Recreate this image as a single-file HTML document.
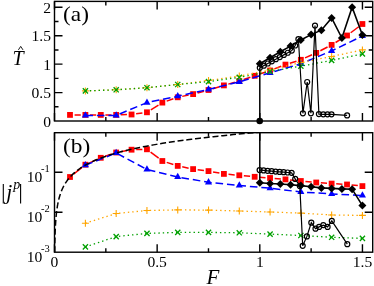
<!DOCTYPE html>
<html><head><meta charset="utf-8"><title>chart</title>
<style>
html,body{margin:0;padding:0;background:#fff;}
svg{display:block;will-change:transform;}
text{font-family:"Liberation Serif",serif;fill:#000;}
</style></head><body>
<svg width="374" height="286" viewBox="0 0 374 286">
<rect width="374" height="286" fill="#fff"/>
<defs><clipPath id="ca"><rect x="54.50" y="1.40" width="318.20" height="123.60"/></clipPath>
<clipPath id="cb"><rect x="54.50" y="132.70" width="318.20" height="119.50"/></clipPath></defs>
<g clip-path="url(#ca)">
<line x1="74.60" y1="114.90" x2="80.79" y2="114.90" stroke="#ff0000" stroke-width="1.5"/>
<line x1="89.99" y1="114.90" x2="96.18" y2="114.90" stroke="#ff0000" stroke-width="1.5"/>
<line x1="105.38" y1="114.90" x2="111.57" y2="114.90" stroke="#ff0000" stroke-width="1.5"/>
<line x1="120.77" y1="114.78" x2="126.96" y2="114.62" stroke="#ff0000" stroke-width="1.5"/>
<line x1="136.11" y1="113.85" x2="142.40" y2="112.95" stroke="#ff0000" stroke-width="1.5"/>
<line x1="150.84" y1="109.85" x2="158.45" y2="105.05" stroke="#ff0000" stroke-width="1.5"/>
<line x1="166.69" y1="101.10" x2="173.38" y2="98.80" stroke="#ff0000" stroke-width="1.5"/>
<line x1="182.23" y1="96.36" x2="188.62" y2="95.04" stroke="#ff0000" stroke-width="1.5"/>
<line x1="197.56" y1="92.92" x2="204.07" y2="91.18" stroke="#ff0000" stroke-width="1.5"/>
<line x1="212.92" y1="88.68" x2="219.49" y2="86.72" stroke="#ff0000" stroke-width="1.5"/>
<line x1="228.32" y1="84.14" x2="234.87" y2="82.26" stroke="#ff0000" stroke-width="1.5"/>
<line x1="243.65" y1="79.53" x2="250.32" y2="77.27" stroke="#ff0000" stroke-width="1.5"/>
<line x1="259.03" y1="74.30" x2="265.72" y2="72.00" stroke="#ff0000" stroke-width="1.5"/>
<line x1="274.37" y1="68.85" x2="281.16" y2="66.25" stroke="#ff0000" stroke-width="1.5"/>
<line x1="289.85" y1="63.23" x2="296.46" y2="61.17" stroke="#ff0000" stroke-width="1.5"/>
<line x1="305.05" y1="57.92" x2="312.04" y2="54.78" stroke="#ff0000" stroke-width="1.5"/>
<line x1="320.32" y1="50.78" x2="327.55" y2="47.02" stroke="#ff0000" stroke-width="1.5"/>
<line x1="335.56" y1="42.50" x2="343.09" y2="37.90" stroke="#ff0000" stroke-width="1.5"/>
<line x1="350.70" y1="32.75" x2="358.73" y2="26.75" stroke="#ff0000" stroke-width="1.5"/>
<rect x="67.10" y="112.00" width="5.80" height="5.80" fill="#ff0000"/>
<rect x="82.49" y="112.00" width="5.80" height="5.80" fill="#ff0000"/>
<rect x="97.88" y="112.00" width="5.80" height="5.80" fill="#ff0000"/>
<rect x="113.27" y="112.00" width="5.80" height="5.80" fill="#ff0000"/>
<rect x="128.66" y="111.60" width="5.80" height="5.80" fill="#ff0000"/>
<rect x="144.05" y="109.40" width="5.80" height="5.80" fill="#ff0000"/>
<rect x="159.44" y="99.70" width="5.80" height="5.80" fill="#ff0000"/>
<rect x="174.83" y="94.40" width="5.80" height="5.80" fill="#ff0000"/>
<rect x="190.22" y="91.20" width="5.80" height="5.80" fill="#ff0000"/>
<rect x="205.61" y="87.10" width="5.80" height="5.80" fill="#ff0000"/>
<rect x="221.00" y="82.50" width="5.80" height="5.80" fill="#ff0000"/>
<rect x="236.39" y="78.10" width="5.80" height="5.80" fill="#ff0000"/>
<rect x="251.78" y="72.90" width="5.80" height="5.80" fill="#ff0000"/>
<rect x="267.17" y="67.60" width="5.80" height="5.80" fill="#ff0000"/>
<rect x="282.56" y="61.70" width="5.80" height="5.80" fill="#ff0000"/>
<rect x="297.95" y="56.90" width="5.80" height="5.80" fill="#ff0000"/>
<rect x="313.34" y="50.00" width="5.80" height="5.80" fill="#ff0000"/>
<rect x="328.73" y="42.00" width="5.80" height="5.80" fill="#ff0000"/>
<rect x="344.12" y="32.60" width="5.80" height="5.80" fill="#ff0000"/>
<rect x="359.51" y="21.10" width="5.80" height="5.80" fill="#ff0000"/>
<polyline points="85.40,115.40 116.18,115.40 146.96,102.60 177.74,96.20 208.52,89.40 239.30,81.80 270.08,72.80 300.86,63.80 331.64,50.90 362.42,36.00" fill="none" stroke="#0000ff" stroke-width="1.5" stroke-dasharray="7.6 3.9" />
<polygon points="85.40,111.20 81.85,117.50 88.95,117.50" fill="#0000ff"/>
<polygon points="116.18,111.20 112.63,117.50 119.73,117.50" fill="#0000ff"/>
<polygon points="146.96,98.40 143.41,104.70 150.51,104.70" fill="#0000ff"/>
<polygon points="177.74,92.00 174.19,98.30 181.29,98.30" fill="#0000ff"/>
<polygon points="208.52,85.20 204.97,91.50 212.07,91.50" fill="#0000ff"/>
<polygon points="239.30,77.60 235.75,83.90 242.85,83.90" fill="#0000ff"/>
<polygon points="270.08,68.60 266.53,74.90 273.63,74.90" fill="#0000ff"/>
<polygon points="300.86,59.60 297.31,65.90 304.41,65.90" fill="#0000ff"/>
<polygon points="331.64,46.70 328.09,53.00 335.19,53.00" fill="#0000ff"/>
<polygon points="362.42,31.80 358.87,38.10 365.97,38.10" fill="#0000ff"/>
<polyline points="85.40,90.90 116.18,89.80 146.96,87.70 177.74,84.50 208.52,80.50 239.30,76.00 270.08,70.00 300.86,62.50 331.64,56.50 362.42,49.90" fill="none" stroke="#ffa500" stroke-width="1.3" stroke-dasharray="1.4 3.0" />
<path d="M81.90 90.90H88.90M85.40 87.40V94.40" stroke="#ffa500" stroke-width="1.1" fill="none"/>
<path d="M112.68 89.80H119.68M116.18 86.30V93.30" stroke="#ffa500" stroke-width="1.1" fill="none"/>
<path d="M143.46 87.70H150.46M146.96 84.20V91.20" stroke="#ffa500" stroke-width="1.1" fill="none"/>
<path d="M174.24 84.50H181.24M177.74 81.00V88.00" stroke="#ffa500" stroke-width="1.1" fill="none"/>
<path d="M205.02 80.50H212.02M208.52 77.00V84.00" stroke="#ffa500" stroke-width="1.1" fill="none"/>
<path d="M235.80 76.00H242.80M239.30 72.50V79.50" stroke="#ffa500" stroke-width="1.1" fill="none"/>
<path d="M266.58 70.00H273.58M270.08 66.50V73.50" stroke="#ffa500" stroke-width="1.1" fill="none"/>
<path d="M297.36 62.50H304.36M300.86 59.00V66.00" stroke="#ffa500" stroke-width="1.1" fill="none"/>
<path d="M328.14 56.50H335.14M331.64 53.00V60.00" stroke="#ffa500" stroke-width="1.1" fill="none"/>
<path d="M358.92 49.90H365.92M362.42 46.40V53.40" stroke="#ffa500" stroke-width="1.1" fill="none"/>
<polyline points="85.40,90.90 116.18,89.80 146.96,87.70 177.74,84.50 208.52,81.60 239.30,77.30 270.08,71.50 300.86,66.20 331.64,60.40 362.42,53.90" fill="none" stroke="#00a000" stroke-width="1.3" stroke-dasharray="1.4 3.0" />
<path d="M82.80 88.30L88.00 93.50M82.80 93.50L88.00 88.30" stroke="#00a000" stroke-width="1.3" fill="none"/>
<path d="M113.58 87.20L118.78 92.40M113.58 92.40L118.78 87.20" stroke="#00a000" stroke-width="1.3" fill="none"/>
<path d="M144.36 85.10L149.56 90.30M144.36 90.30L149.56 85.10" stroke="#00a000" stroke-width="1.3" fill="none"/>
<path d="M175.14 81.90L180.34 87.10M175.14 87.10L180.34 81.90" stroke="#00a000" stroke-width="1.3" fill="none"/>
<path d="M205.92 79.00L211.12 84.20M205.92 84.20L211.12 79.00" stroke="#00a000" stroke-width="1.3" fill="none"/>
<path d="M236.70 74.70L241.90 79.90M236.70 79.90L241.90 74.70" stroke="#00a000" stroke-width="1.3" fill="none"/>
<path d="M267.48 68.90L272.68 74.10M267.48 74.10L272.68 68.90" stroke="#00a000" stroke-width="1.3" fill="none"/>
<path d="M298.26 63.60L303.46 68.80M298.26 68.80L303.46 63.60" stroke="#00a000" stroke-width="1.3" fill="none"/>
<path d="M329.04 57.80L334.24 63.00M329.04 63.00L334.24 57.80" stroke="#00a000" stroke-width="1.3" fill="none"/>
<path d="M359.82 51.30L365.02 56.50M359.82 56.50L365.02 51.30" stroke="#00a000" stroke-width="1.3" fill="none"/>
<polyline points="259.80,121.00 259.80,67.80" fill="none" stroke="#000" stroke-width="1.5" />
<polyline points="259.80,67.80 263.80,65.65 267.80,63.50 271.80,61.35 275.80,59.20 279.80,57.05 283.80,54.90 287.80,52.75 291.80,50.60 295.20,45.50 298.40,39.20 302.90,113.30 307.20,82.00 310.90,113.30 315.00,25.60 318.90,114.10 323.30,114.30 327.50,114.30 331.50,114.30 347.10,115.40" fill="none" stroke="#000" stroke-width="1.2" />
<circle cx="259.80" cy="67.80" r="2.50" fill="none" stroke="#000" stroke-width="1.2"/>
<circle cx="263.80" cy="65.65" r="2.50" fill="none" stroke="#000" stroke-width="1.2"/>
<circle cx="267.80" cy="63.50" r="2.50" fill="none" stroke="#000" stroke-width="1.2"/>
<circle cx="271.80" cy="61.35" r="2.50" fill="none" stroke="#000" stroke-width="1.2"/>
<circle cx="275.80" cy="59.20" r="2.50" fill="none" stroke="#000" stroke-width="1.2"/>
<circle cx="279.80" cy="57.05" r="2.50" fill="none" stroke="#000" stroke-width="1.2"/>
<circle cx="283.80" cy="54.90" r="2.50" fill="none" stroke="#000" stroke-width="1.2"/>
<circle cx="287.80" cy="52.75" r="2.50" fill="none" stroke="#000" stroke-width="1.2"/>
<circle cx="291.80" cy="50.60" r="2.50" fill="none" stroke="#000" stroke-width="1.2"/>
<circle cx="295.20" cy="45.50" r="2.50" fill="none" stroke="#000" stroke-width="1.2"/>
<circle cx="298.40" cy="39.20" r="2.50" fill="none" stroke="#000" stroke-width="1.2"/>
<circle cx="302.90" cy="113.30" r="2.50" fill="none" stroke="#000" stroke-width="1.2"/>
<circle cx="307.20" cy="82.00" r="2.50" fill="none" stroke="#000" stroke-width="1.2"/>
<circle cx="310.90" cy="113.30" r="2.50" fill="none" stroke="#000" stroke-width="1.2"/>
<circle cx="315.00" cy="25.60" r="2.50" fill="none" stroke="#000" stroke-width="1.2"/>
<circle cx="318.90" cy="114.10" r="2.50" fill="none" stroke="#000" stroke-width="1.2"/>
<circle cx="323.30" cy="114.30" r="2.50" fill="none" stroke="#000" stroke-width="1.2"/>
<circle cx="327.50" cy="114.30" r="2.50" fill="none" stroke="#000" stroke-width="1.2"/>
<circle cx="331.50" cy="114.30" r="2.50" fill="none" stroke="#000" stroke-width="1.2"/>
<circle cx="347.10" cy="115.40" r="2.50" fill="none" stroke="#000" stroke-width="1.2"/>
<polyline points="259.80,63.80 270.06,57.70 280.32,51.70 290.58,46.10 300.84,40.00 311.10,34.60 321.36,30.20 331.62,18.00 341.88,38.00 352.14,7.20 362.40,35.00" fill="none" stroke="#000" stroke-width="1.6" />
<polygon points="259.80,59.80 263.80,63.80 259.80,67.80 255.80,63.80" fill="#000"/>
<polygon points="270.06,53.70 274.06,57.70 270.06,61.70 266.06,57.70" fill="#000"/>
<polygon points="280.32,47.70 284.32,51.70 280.32,55.70 276.32,51.70" fill="#000"/>
<polygon points="290.58,42.10 294.58,46.10 290.58,50.10 286.58,46.10" fill="#000"/>
<polygon points="300.84,36.00 304.84,40.00 300.84,44.00 296.84,40.00" fill="#000"/>
<polygon points="311.10,30.60 315.10,34.60 311.10,38.60 307.10,34.60" fill="#000"/>
<polygon points="321.36,26.20 325.36,30.20 321.36,34.20 317.36,30.20" fill="#000"/>
<polygon points="331.62,14.00 335.62,18.00 331.62,22.00 327.62,18.00" fill="#000"/>
<polygon points="341.88,34.00 345.88,38.00 341.88,42.00 337.88,38.00" fill="#000"/>
<polygon points="352.14,3.20 356.14,7.20 352.14,11.20 348.14,7.20" fill="#000"/>
<polygon points="362.40,31.00 366.40,35.00 362.40,39.00 358.40,35.00" fill="#000"/>
</g>
<circle cx="259.7" cy="121.0" r="3.3" fill="#000"/>
<g clip-path="url(#cb)">
<polyline points="85.40,223.20 116.18,213.50 146.96,210.50 177.74,209.90 208.52,210.10 239.30,211.00 270.08,212.00 300.86,213.10 331.64,215.00 362.42,215.40" fill="none" stroke="#ffa500" stroke-width="1.3" stroke-dasharray="1.4 3.0" />
<path d="M81.90 223.20H88.90M85.40 219.70V226.70" stroke="#ffa500" stroke-width="1.1" fill="none"/>
<path d="M112.68 213.50H119.68M116.18 210.00V217.00" stroke="#ffa500" stroke-width="1.1" fill="none"/>
<path d="M143.46 210.50H150.46M146.96 207.00V214.00" stroke="#ffa500" stroke-width="1.1" fill="none"/>
<path d="M174.24 209.90H181.24M177.74 206.40V213.40" stroke="#ffa500" stroke-width="1.1" fill="none"/>
<path d="M205.02 210.10H212.02M208.52 206.60V213.60" stroke="#ffa500" stroke-width="1.1" fill="none"/>
<path d="M235.80 211.00H242.80M239.30 207.50V214.50" stroke="#ffa500" stroke-width="1.1" fill="none"/>
<path d="M266.58 212.00H273.58M270.08 208.50V215.50" stroke="#ffa500" stroke-width="1.1" fill="none"/>
<path d="M297.36 213.10H304.36M300.86 209.60V216.60" stroke="#ffa500" stroke-width="1.1" fill="none"/>
<path d="M328.14 215.00H335.14M331.64 211.50V218.50" stroke="#ffa500" stroke-width="1.1" fill="none"/>
<path d="M358.92 215.40H365.92M362.42 211.90V218.90" stroke="#ffa500" stroke-width="1.1" fill="none"/>
<polyline points="85.40,246.90 116.18,236.60 146.96,233.40 177.74,232.40 208.52,232.40 239.30,232.80 270.08,234.10 300.86,235.50 331.64,237.30 362.42,238.40" fill="none" stroke="#00a000" stroke-width="1.3" stroke-dasharray="1.4 3.0" />
<path d="M82.80 244.30L88.00 249.50M82.80 249.50L88.00 244.30" stroke="#00a000" stroke-width="1.3" fill="none"/>
<path d="M113.58 234.00L118.78 239.20M113.58 239.20L118.78 234.00" stroke="#00a000" stroke-width="1.3" fill="none"/>
<path d="M144.36 230.80L149.56 236.00M144.36 236.00L149.56 230.80" stroke="#00a000" stroke-width="1.3" fill="none"/>
<path d="M175.14 229.80L180.34 235.00M175.14 235.00L180.34 229.80" stroke="#00a000" stroke-width="1.3" fill="none"/>
<path d="M205.92 229.80L211.12 235.00M205.92 235.00L211.12 229.80" stroke="#00a000" stroke-width="1.3" fill="none"/>
<path d="M236.70 230.20L241.90 235.40M236.70 235.40L241.90 230.20" stroke="#00a000" stroke-width="1.3" fill="none"/>
<path d="M267.48 231.50L272.68 236.70M267.48 236.70L272.68 231.50" stroke="#00a000" stroke-width="1.3" fill="none"/>
<path d="M298.26 232.90L303.46 238.10M298.26 238.10L303.46 232.90" stroke="#00a000" stroke-width="1.3" fill="none"/>
<path d="M329.04 234.70L334.24 239.90M329.04 239.90L334.24 234.70" stroke="#00a000" stroke-width="1.3" fill="none"/>
<path d="M359.82 235.80L365.02 241.00M359.82 241.00L365.02 235.80" stroke="#00a000" stroke-width="1.3" fill="none"/>
<line x1="73.59" y1="174.13" x2="81.80" y2="167.57" stroke="#ff0000" stroke-width="1.5"/>
<line x1="89.59" y1="162.82" x2="96.58" y2="159.68" stroke="#ff0000" stroke-width="1.5"/>
<line x1="105.13" y1="156.30" x2="111.82" y2="154.00" stroke="#ff0000" stroke-width="1.5"/>
<line x1="120.70" y1="151.68" x2="127.03" y2="150.52" stroke="#ff0000" stroke-width="1.5"/>
<line x1="136.16" y1="149.58" x2="142.35" y2="149.42" stroke="#ff0000" stroke-width="1.5"/>
<line x1="150.61" y1="152.08" x2="158.68" y2="158.22" stroke="#ff0000" stroke-width="1.5"/>
<line x1="166.72" y1="162.40" x2="173.35" y2="164.50" stroke="#ff0000" stroke-width="1.5"/>
<line x1="182.23" y1="166.84" x2="188.62" y2="168.16" stroke="#ff0000" stroke-width="1.5"/>
<line x1="197.68" y1="169.69" x2="203.95" y2="170.51" stroke="#ff0000" stroke-width="1.5"/>
<line x1="213.04" y1="171.92" x2="219.37" y2="173.08" stroke="#ff0000" stroke-width="1.5"/>
<line x1="228.48" y1="174.32" x2="234.71" y2="174.88" stroke="#ff0000" stroke-width="1.5"/>
<line x1="243.87" y1="175.75" x2="250.10" y2="176.35" stroke="#ff0000" stroke-width="1.5"/>
<line x1="259.27" y1="177.16" x2="265.48" y2="177.64" stroke="#ff0000" stroke-width="1.5"/>
<line x1="274.65" y1="178.42" x2="280.88" y2="178.98" stroke="#ff0000" stroke-width="1.5"/>
<line x1="290.04" y1="179.88" x2="296.27" y2="180.52" stroke="#ff0000" stroke-width="1.5"/>
<line x1="305.43" y1="181.45" x2="311.66" y2="182.05" stroke="#ff0000" stroke-width="1.5"/>
<line x1="320.83" y1="182.83" x2="327.04" y2="183.27" stroke="#ff0000" stroke-width="1.5"/>
<line x1="336.22" y1="183.87" x2="342.43" y2="184.23" stroke="#ff0000" stroke-width="1.5"/>
<line x1="351.60" y1="184.98" x2="357.83" y2="185.62" stroke="#ff0000" stroke-width="1.5"/>
<rect x="67.10" y="174.10" width="5.80" height="5.80" fill="#ff0000"/>
<rect x="82.49" y="161.80" width="5.80" height="5.80" fill="#ff0000"/>
<rect x="97.88" y="154.90" width="5.80" height="5.80" fill="#ff0000"/>
<rect x="113.27" y="149.60" width="5.80" height="5.80" fill="#ff0000"/>
<rect x="128.66" y="146.80" width="5.80" height="5.80" fill="#ff0000"/>
<rect x="144.05" y="146.40" width="5.80" height="5.80" fill="#ff0000"/>
<rect x="159.44" y="158.10" width="5.80" height="5.80" fill="#ff0000"/>
<rect x="174.83" y="163.00" width="5.80" height="5.80" fill="#ff0000"/>
<rect x="190.22" y="166.20" width="5.80" height="5.80" fill="#ff0000"/>
<rect x="205.61" y="168.20" width="5.80" height="5.80" fill="#ff0000"/>
<rect x="221.00" y="171.00" width="5.80" height="5.80" fill="#ff0000"/>
<rect x="236.39" y="172.40" width="5.80" height="5.80" fill="#ff0000"/>
<rect x="251.78" y="173.90" width="5.80" height="5.80" fill="#ff0000"/>
<rect x="267.17" y="175.10" width="5.80" height="5.80" fill="#ff0000"/>
<rect x="282.56" y="176.50" width="5.80" height="5.80" fill="#ff0000"/>
<rect x="297.95" y="178.10" width="5.80" height="5.80" fill="#ff0000"/>
<rect x="313.34" y="179.60" width="5.80" height="5.80" fill="#ff0000"/>
<rect x="328.73" y="180.70" width="5.80" height="5.80" fill="#ff0000"/>
<rect x="344.12" y="181.60" width="5.80" height="5.80" fill="#ff0000"/>
<rect x="359.51" y="183.20" width="5.80" height="5.80" fill="#ff0000"/>
<polyline points="85.40,165.20 116.18,153.00 146.96,169.50 177.74,177.00 208.52,182.30 239.30,185.50 270.08,188.20 300.86,192.00 331.64,193.90 362.42,195.50" fill="none" stroke="#0000ff" stroke-width="1.5" stroke-dasharray="7.6 3.9" />
<polygon points="85.40,161.00 81.85,167.30 88.95,167.30" fill="#0000ff"/>
<polygon points="116.18,148.80 112.63,155.10 119.73,155.10" fill="#0000ff"/>
<polygon points="146.96,165.30 143.41,171.60 150.51,171.60" fill="#0000ff"/>
<polygon points="177.74,172.80 174.19,179.10 181.29,179.10" fill="#0000ff"/>
<polygon points="208.52,178.10 204.97,184.40 212.07,184.40" fill="#0000ff"/>
<polygon points="239.30,181.30 235.75,187.60 242.85,187.60" fill="#0000ff"/>
<polygon points="270.08,184.00 266.53,190.30 273.63,190.30" fill="#0000ff"/>
<polygon points="300.86,187.80 297.31,194.10 304.41,194.10" fill="#0000ff"/>
<polygon points="331.64,189.70 328.09,196.00 335.19,196.00" fill="#0000ff"/>
<polygon points="362.42,191.30 358.87,197.60 365.97,197.60" fill="#0000ff"/>
<polyline points="54.71,252.20 54.71,251.69 54.72,251.17 54.72,250.66 54.73,250.15 54.74,249.63 54.75,249.12 54.75,248.61 54.76,248.09 54.77,247.58 54.78,247.07 54.78,246.55 54.79,246.04 54.80,245.52 54.81,245.01 54.82,244.50 54.83,243.98 54.84,243.47 54.85,242.96 54.86,242.44 54.87,241.93 54.88,241.42 54.89,240.90 54.91,240.39 54.92,239.88 54.93,239.36 54.94,238.85 54.96,238.34 54.97,237.82 54.98,237.31 55.00,236.80 55.01,236.28 55.03,235.77 55.04,235.25 55.06,234.74 55.08,234.23 55.10,233.71 55.11,233.20 55.13,232.69 55.15,232.17 55.17,231.66 55.19,231.15 55.21,230.63 55.23,230.12 55.25,229.61 55.28,229.09 55.30,228.58 55.32,228.07 55.35,227.55 55.37,227.04 55.40,226.53 55.43,226.01 55.45,225.50 55.48,224.99 55.51,224.47 55.54,223.96 55.57,223.44 55.61,222.93 55.64,222.42 55.67,221.90 55.71,221.39 55.75,220.88 55.78,220.36 55.82,219.85 55.86,219.34 55.90,218.82 55.94,218.31 55.99,217.80 56.03,217.28 56.08,216.77 56.13,216.26 56.17,215.74 56.22,215.23 56.28,214.72 56.33,214.20 56.38,213.69 56.44,213.17 56.50,212.66 56.56,212.15 56.62,211.63 56.68,211.12 56.75,210.61 56.82,210.09 56.89,209.58 56.96,209.07 57.03,208.55 57.11,208.04 57.19,207.53 57.27,207.01 57.35,206.50 57.44,205.99 57.52,205.47 57.61,204.96 57.71,204.45 57.80,203.93 57.90,203.42 58.01,202.91 58.11,202.39 58.22,201.88 58.33,201.36 58.45,200.85 58.56,200.34 58.69,199.82 58.81,199.31 58.94,198.80 59.07,198.28 59.21,197.77 59.35,197.26 59.50,196.74 59.65,196.23 59.80,195.72 59.96,195.20 60.13,194.69 60.29,194.18 60.47,193.66 60.65,193.15 60.83,192.64 61.02,192.12 61.22,191.61 61.42,191.09 61.63,190.58 61.84,190.07 62.06,189.55 62.29,189.04 62.52,188.53 62.76,188.01 63.01,187.50 63.26,186.99 63.53,186.47 63.80,185.96 64.08,185.45 64.36,184.93 64.66,184.42 64.97,183.91 65.28,183.39 65.60,182.88 65.94,182.37 66.28,181.85 66.63,181.34 67.00,180.83 67.37,180.31 67.76,179.80 68.15,179.28 68.56,178.77 68.99,178.26 69.42,177.74 69.87,177.23 70.33,176.72 70.80,176.20 71.29,175.69 71.80,175.18 72.32,174.66 72.85,174.15 73.40,173.64 73.97,173.12 74.55,172.61 75.15,172.10 75.77,171.58 76.41,171.07 77.07,170.56 77.75,170.04 78.44,169.53 79.16,169.01 79.90,168.50 80.66,167.99 81.45,167.47 82.26,166.96 83.09,166.45 83.95,165.93 84.83,165.42 85.74,164.91 86.68,164.39 87.64,163.88 88.64,163.37 89.66,162.85 90.72,162.34 91.80,161.83 92.92,161.31 94.07,160.80 95.26,160.29 96.48,159.77 97.74,159.26 99.04,158.75 100.38,158.23 101.75,157.72 103.17,157.20 104.63,156.69 106.14,156.18 107.68,155.66 109.28,155.15 110.92,154.64 112.62,154.12 114.36,153.61 116.16,153.10 118.01,152.58 119.91,152.07 121.87,151.56 123.89,151.04 125.98,150.53 128.12,150.02 130.33,149.50 132.60,148.99 134.95,148.48 137.36,147.96 139.85,147.45 142.41,146.93 145.04,146.42 147.76,145.91 150.56,145.39 153.44,144.88 156.41,144.37 159.46,143.85 162.61,143.34 165.86,142.83 169.20,142.31 172.64,141.80 176.18,141.29 179.83,140.77 183.59,140.26 187.47,139.75 191.46,139.23 195.56,138.72 199.80,138.21 204.15,137.69 208.64,137.18 213.27,136.66 218.03,136.15 222.94,135.64 227.99,135.12 233.20,134.61 238.56,134.10 244.08,133.58 249.77,133.07 255.62,132.56 259.80,132.20" fill="none" stroke="#000" stroke-width="1.5" stroke-dasharray="6 2.8" />
<polyline points="259.80,132.70 259.80,182.40" fill="none" stroke="#000" stroke-width="1.5" />
<polyline points="259.60,170.10 263.60,170.40 267.60,170.80 271.60,171.20 275.60,171.60 279.60,171.90 283.60,172.20 287.60,172.50 291.60,172.80 295.20,178.90 299.80,186.00 302.70,245.80 306.90,236.40 311.30,222.70 315.50,228.70 319.10,226.90 323.30,225.10 327.60,226.90 331.80,220.90 347.30,244.20" fill="none" stroke="#000" stroke-width="1.2" />
<circle cx="259.60" cy="170.10" r="2.50" fill="none" stroke="#000" stroke-width="1.2"/>
<circle cx="263.60" cy="170.40" r="2.50" fill="none" stroke="#000" stroke-width="1.2"/>
<circle cx="267.60" cy="170.80" r="2.50" fill="none" stroke="#000" stroke-width="1.2"/>
<circle cx="271.60" cy="171.20" r="2.50" fill="none" stroke="#000" stroke-width="1.2"/>
<circle cx="275.60" cy="171.60" r="2.50" fill="none" stroke="#000" stroke-width="1.2"/>
<circle cx="279.60" cy="171.90" r="2.50" fill="none" stroke="#000" stroke-width="1.2"/>
<circle cx="283.60" cy="172.20" r="2.50" fill="none" stroke="#000" stroke-width="1.2"/>
<circle cx="287.60" cy="172.50" r="2.50" fill="none" stroke="#000" stroke-width="1.2"/>
<circle cx="291.60" cy="172.80" r="2.50" fill="none" stroke="#000" stroke-width="1.2"/>
<circle cx="295.20" cy="178.90" r="2.50" fill="none" stroke="#000" stroke-width="1.2"/>
<circle cx="299.80" cy="186.00" r="2.50" fill="none" stroke="#000" stroke-width="1.2"/>
<circle cx="302.70" cy="245.80" r="2.50" fill="none" stroke="#000" stroke-width="1.2"/>
<circle cx="306.90" cy="236.40" r="2.50" fill="none" stroke="#000" stroke-width="1.2"/>
<circle cx="311.30" cy="222.70" r="2.50" fill="none" stroke="#000" stroke-width="1.2"/>
<circle cx="315.50" cy="228.70" r="2.50" fill="none" stroke="#000" stroke-width="1.2"/>
<circle cx="319.10" cy="226.90" r="2.50" fill="none" stroke="#000" stroke-width="1.2"/>
<circle cx="323.30" cy="225.10" r="2.50" fill="none" stroke="#000" stroke-width="1.2"/>
<circle cx="327.60" cy="226.90" r="2.50" fill="none" stroke="#000" stroke-width="1.2"/>
<circle cx="331.80" cy="220.90" r="2.50" fill="none" stroke="#000" stroke-width="1.2"/>
<circle cx="347.30" cy="244.20" r="2.50" fill="none" stroke="#000" stroke-width="1.2"/>
<polyline points="259.80,182.70 270.06,183.50 280.32,184.00 290.58,184.80 300.84,185.60 311.10,186.70 321.36,187.90 331.62,188.40 341.88,188.90 352.14,189.20 362.40,205.60" fill="none" stroke="#000" stroke-width="1.6" />
<polygon points="259.80,178.70 263.80,182.70 259.80,186.70 255.80,182.70" fill="#000"/>
<polygon points="270.06,179.50 274.06,183.50 270.06,187.50 266.06,183.50" fill="#000"/>
<polygon points="280.32,180.00 284.32,184.00 280.32,188.00 276.32,184.00" fill="#000"/>
<polygon points="290.58,180.80 294.58,184.80 290.58,188.80 286.58,184.80" fill="#000"/>
<polygon points="300.84,181.60 304.84,185.60 300.84,189.60 296.84,185.60" fill="#000"/>
<polygon points="311.10,182.70 315.10,186.70 311.10,190.70 307.10,186.70" fill="#000"/>
<polygon points="321.36,183.90 325.36,187.90 321.36,191.90 317.36,187.90" fill="#000"/>
<polygon points="331.62,184.40 335.62,188.40 331.62,192.40 327.62,188.40" fill="#000"/>
<polygon points="341.88,184.90 345.88,188.90 341.88,192.90 337.88,188.90" fill="#000"/>
<polygon points="352.14,185.20 356.14,189.20 352.14,193.20 348.14,189.20" fill="#000"/>
<polygon points="362.40,201.60 366.40,205.60 362.40,209.60 358.40,205.60" fill="#000"/>
</g>
<rect x="54.50" y="1.40" width="318.20" height="119.60" fill="none" stroke="#000" stroke-width="1.4"/>
<rect x="54.50" y="132.70" width="318.20" height="119.50" fill="none" stroke="#000" stroke-width="1.4"/>
<path d="M54.50 1.40v8.00M54.50 121.00v-8.00" stroke="#000" stroke-width="1.4"/>
<path d="M105.83 1.40v4.00M105.83 121.00v-4.00" stroke="#000" stroke-width="1.4"/>
<path d="M157.15 1.40v8.00M157.15 121.00v-8.00" stroke="#000" stroke-width="1.4"/>
<path d="M208.48 1.40v4.00M208.48 121.00v-4.00" stroke="#000" stroke-width="1.4"/>
<path d="M259.80 1.40v8.00M259.80 121.00v-8.00" stroke="#000" stroke-width="1.4"/>
<path d="M311.12 1.40v4.00M311.12 121.00v-4.00" stroke="#000" stroke-width="1.4"/>
<path d="M362.45 1.40v8.00M362.45 121.00v-8.00" stroke="#000" stroke-width="1.4"/>
<path d="M54.50 132.70v8.00M54.50 252.20v-8.00" stroke="#000" stroke-width="1.4"/>
<path d="M105.83 132.70v4.00M105.83 252.20v-4.00" stroke="#000" stroke-width="1.4"/>
<path d="M157.15 132.70v8.00M157.15 252.20v-8.00" stroke="#000" stroke-width="1.4"/>
<path d="M208.48 132.70v4.00M208.48 252.20v-4.00" stroke="#000" stroke-width="1.4"/>
<path d="M259.80 132.70v8.00M259.80 252.20v-8.00" stroke="#000" stroke-width="1.4"/>
<path d="M311.12 132.70v4.00M311.12 252.20v-4.00" stroke="#000" stroke-width="1.4"/>
<path d="M362.45 132.70v8.00M362.45 252.20v-8.00" stroke="#000" stroke-width="1.4"/>
<path d="M54.50 106.79h4.00M372.70 106.79h-4.00" stroke="#000" stroke-width="1.4"/>
<path d="M54.50 92.58h8.00M372.70 92.58h-8.00" stroke="#000" stroke-width="1.4"/>
<path d="M54.50 78.36h4.00M372.70 78.36h-4.00" stroke="#000" stroke-width="1.4"/>
<path d="M54.50 64.15h8.00M372.70 64.15h-8.00" stroke="#000" stroke-width="1.4"/>
<path d="M54.50 49.94h4.00M372.70 49.94h-4.00" stroke="#000" stroke-width="1.4"/>
<path d="M54.50 35.72h8.00M372.70 35.72h-8.00" stroke="#000" stroke-width="1.4"/>
<path d="M54.50 21.51h4.00M372.70 21.51h-4.00" stroke="#000" stroke-width="1.4"/>
<path d="M54.50 7.30h8.00M372.70 7.30h-8.00" stroke="#000" stroke-width="1.4"/>
<path d="M54.50 172.20h8.00M372.70 172.20h-8.00" stroke="#000" stroke-width="1.4"/>
<path d="M54.50 212.20h8.00M372.70 212.20h-8.00" stroke="#000" stroke-width="1.4"/>
<text x="51.00" y="126.50" font-size="15.6" text-anchor="end" >0</text>
<text x="51.00" y="98.08" font-size="15.6" text-anchor="end" >0.5</text>
<text x="51.00" y="69.65" font-size="15.6" text-anchor="end" >1</text>
<text x="51.00" y="41.22" font-size="15.6" text-anchor="end" >1.5</text>
<text x="51.00" y="12.80" font-size="15.6" text-anchor="end" >2</text>
<text x="26.8" y="181.50" font-size="15.6">10<tspan font-size="10.5" dy="-9.2" dx="-1.3">-1</tspan></text>
<text x="26.8" y="221.50" font-size="15.6">10<tspan font-size="10.5" dy="-9.2" dx="-1.3">-2</tspan></text>
<text x="26.8" y="261.50" font-size="15.6">10<tspan font-size="10.5" dy="-9.2" dx="-1.3">-3</tspan></text>
<text x="54.50" y="267.00" font-size="15.6" text-anchor="middle" >0</text>
<text x="157.15" y="267.00" font-size="15.6" text-anchor="middle" >0.5</text>
<text x="259.80" y="267.00" font-size="15.6" text-anchor="middle" >1</text>
<text x="362.45" y="267.00" font-size="15.6" text-anchor="middle" >1.5</text>
<text transform="translate(63.0,20.8) scale(1.14,1)" font-size="20.5">(a)</text>
<text transform="translate(63.0,153.2) scale(1.14,1)" font-size="20.5">(b)</text>
<text x="206.50" y="284.30" font-size="21" text-anchor="start" font-style="italic">F</text>
<text x="12.50" y="65.00" font-size="20" text-anchor="start" font-style="italic">T</text>
<path d="M18.4 49.9L20.7 46.4L23.0 49.9" fill="none" stroke="#000" stroke-width="0.9"/>
<path d="M3.3 184v19.5M20.6 184v19.5" stroke="#000" stroke-width="1.1"/>
<text x="6.30" y="199.40" font-size="21.5" text-anchor="start" font-style="italic">j</text>
<text x="13.20" y="188.50" font-size="14" text-anchor="start" font-style="italic">p</text>
</svg>
</body></html>
